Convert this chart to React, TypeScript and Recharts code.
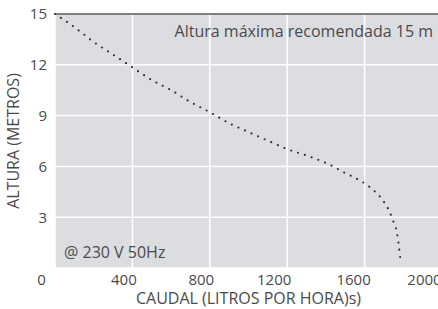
import { LineChart, Line, XAxis, YAxis, CartesianGrid, ReferenceLine } from 'recharts';

// pump curve: flow (l/h) vs head (m)
const caudal = [0, 100, 200, 300, 400, 500, 600, 700, 800, 900, 1000, 1100, 1200, 1300, 1400, 1450, 1500, 1550, 1600, 1650, 1700, 1730, 1750, 1765, 1775, 1782, 1788];
const altura = [15, 14.22, 13.35, 12.6, 11.85, 11.1, 10.5, 9.8, 9.2, 8.55, 8.03, 7.52, 7.02, 6.64, 6.2, 5.92, 5.6, 5.33, 5.0, 4.55, 3.9, 3.3, 2.7, 2.2, 1.5, 0.8, 0.3];
const xTicks = [0, 400, 800, 1200, 1600, 2000];
const yTicks = [3, 6, 9, 12, 15];
// the printed x labels sit a little left of their grid lines
const xTickShift = [-13.5, -8.5, -8.5, -13, -11, -17.5];

const data = caudal.map((c, i) => ({ caudal: c, altura: altura[i] }));

const textColor = '#4a4a4d';
const font = '"Open Sans", sans-serif';

function XTick(props: any) {
  const { x, y, payload, index } = props;
  return (
    <text x={x + (xTickShift[index] ?? 0)} y={y} dy="0.71em" textAnchor="middle" fill={textColor} fontSize={15} fontFamily={font}>
      {payload.value}
    </text>
  );
}

export default function App() {
  return (
    <div style={{ position: 'fixed', top: 0, left: 0, width: 438, height: 309, overflow: 'hidden', background: '#fff', fontFamily: font }}>
      <LineChart width={452} height={309} data={data} margin={{ top: 14, right: 10, bottom: 11, left: 15 }}>
        <CartesianGrid fill="#dcdde0" stroke="#ffffff" strokeWidth={1.5} />
        <XAxis
          dataKey="caudal"
          type="number"
          domain={[0, 2000]}
          ticks={xTicks}
          interval={0}
          axisLine={false}
          tickLine={false}
          tickMargin={0}
          height={30}
          tick={<XTick />}
          label={{ value: 'CAUDAL (LITROS POR HORA)s)', position: 'insideBottom', offset: -6, fill: textColor, fontSize: 16, fontFamily: font }}
        />
        <YAxis
          type="number"
          domain={[0, 15]}
          ticks={yTicks}
          interval={0}
          axisLine={false}
          tickLine={false}
          width={40}
          tick={{ fill: textColor, fontSize: 15, fontFamily: font }}
          label={{ value: 'ALTURA (METROS)', angle: -90, position: 'insideLeft', offset: -2, fill: textColor, fontSize: 16, fontFamily: font, style: { textAnchor: 'middle' } }}
        />
        <ReferenceLine y={15} stroke="#555559" strokeWidth={1.5} />
        <Line
          dataKey="altura"
          type="monotone"
          stroke="#333338"
          strokeWidth={2.2}
          strokeDasharray="0 7.2"
          strokeLinecap="round"
          dot={false}
          isAnimationActive={false}
        />
      </LineChart>
      <div style={{ position: 'absolute', right: 5, top: 23, fontSize: 16, lineHeight: '16px', color: textColor, whiteSpace: 'nowrap' }}>
        Altura máxima recomendada 15 m
      </div>
      <div style={{ position: 'absolute', left: 64, top: 244, fontSize: 16, lineHeight: '16px', color: textColor, whiteSpace: 'nowrap' }}>
        @ 230 V 50Hz
      </div>
    </div>
  );
}
